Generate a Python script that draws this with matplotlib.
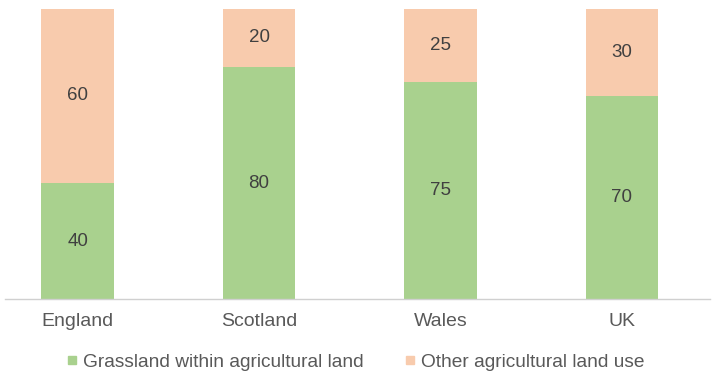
import matplotlib
matplotlib.use("Agg")
import matplotlib.pyplot as plt
from matplotlib.lines import Line2D

categories = ["England", "Scotland", "Wales", "UK"]
grassland = [40, 80, 75, 70]
other = [60, 20, 25, 30]
series_names = ["Grassland within agricultural land", "Other agricultural land use"]

green = "#a9d18e"
peach = "#f8cbad"

plt.rcParams['font.family'] = ['Liberation Sans', 'DejaVu Sans']

fig = plt.figure(figsize=(7.16, 3.76), dpi=100)
ax = fig.add_axes([5/716, 1-299/376, 705/716, 290/376])

x = list(range(len(categories)))
w = 0.40
ax.bar(x, grassland, width=w, color=green)
ax.bar(x, other, width=w, bottom=grassland, color=peach)

for xi, g, o in zip(x, grassland, other):
    ax.text(xi, g/2, str(g), ha='center', va='center', fontsize=13.5, color='#404040')
    ax.text(xi, g + o/2, str(o), ha='center', va='center', fontsize=13.5, color='#404040')

ax.set_xlim(-0.40, 3.485)
ax.set_ylim(0, 100)
for s in ['top', 'right', 'left']:
    ax.spines[s].set_visible(False)
ax.spines['bottom'].set_color('#d0d0d0')
ax.spines['bottom'].set_linewidth(1.0)
ax.set_yticks([])
ax.set_xticks(x)
ax.set_xticklabels(categories, fontsize=14, color='#595959')
ax.tick_params(axis='x', length=0, pad=10)

handles = [Line2D([0], [0], marker='s', linestyle='', markersize=6, color=green),
           Line2D([0], [0], marker='s', linestyle='', markersize=6, color=peach)]
fig.legend(handles, series_names, loc='center', bbox_to_anchor=(356/716, 1-362/376),
           ncol=2, frameon=False, fontsize=13.8, labelcolor='#595959',
           handlelength=0.5, handletextpad=0.3, columnspacing=2.2)

fig.savefig("out.png", dpi=100)
